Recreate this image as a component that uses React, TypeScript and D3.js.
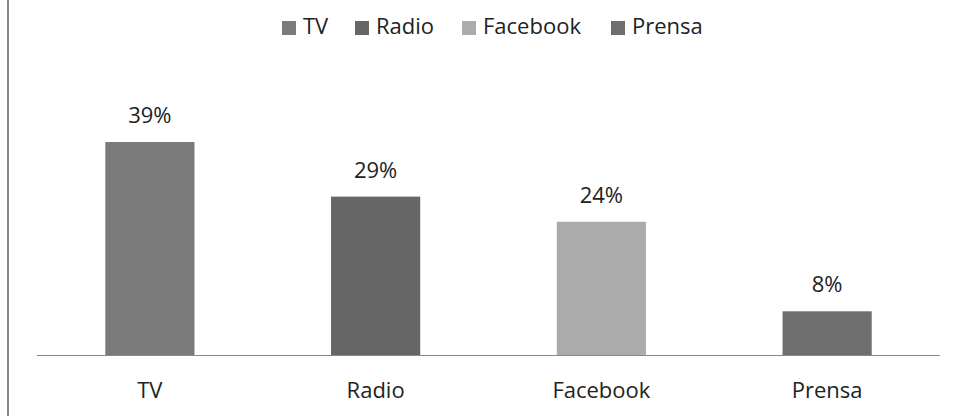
import React from 'react'
import * as d3 from 'd3'

const categories = ['TV', 'Radio', 'Facebook', 'Prensa']
const shares = [39, 29, 24.4, 8]
const colors = ['#7a7a7a', '#666666', '#ababab', '#6e6e6e']

const svgWidth = 957
const svgHeight = 416
const baseline = 355
const font = '"Open Sans", sans-serif'
const fontSize = 22

export default function App() {
	const xScale = d3
		.scaleBand()
		.domain(categories)
		.range([37, 940])
		.paddingInner(0.605)
		.paddingOuter(0.3025)
	const yScale = d3.scaleLinear().domain([0, 39]).range([baseline, 142])

	// legend: square + label, laid out left to right
	const legendX = [282, 355, 462, 611]

	return (
		<svg
			width={svgWidth}
			height={svgHeight}
			style={{ position: 'absolute', left: 0, top: 0, background: '#fff' }}
		>
			<rect x={7} y={0} width={2} height={svgHeight} fill="#888" />
			{categories.map((c, i) => (
				<g key={c} transform={`translate(${legendX[i]}, 0)`}>
					<rect x={0} y={21} width={14} height={14} fill={colors[i]} />
					<text x={21} y={34} fontFamily={font} fontSize={fontSize} fill="#222">
						{c}
					</text>
				</g>
			))}
			{categories.map((c, i) => (
				<g key={c}>
					<rect
						x={xScale(c)}
						y={yScale(shares[i])}
						width={xScale.bandwidth()}
						height={baseline - yScale(shares[i])}
						fill={colors[i]}
					/>
					<text
						x={xScale(c)! + xScale.bandwidth() / 2}
						y={yScale(shares[i]) - 19}
						textAnchor="middle"
						fontFamily={font}
						fontSize={fontSize}
						fill="#222"
					>
						{Math.round(shares[i])}%
					</text>
					<text
						x={xScale(c)! + xScale.bandwidth() / 2}
						y={398}
						textAnchor="middle"
						fontFamily={font}
						fontSize={fontSize}
						fill="#222"
					>
						{c}
					</text>
				</g>
			))}
			<line x1={37} x2={940} y1={baseline + 0.5} y2={baseline + 0.5} stroke="#888" />
		</svg>
	)
}
